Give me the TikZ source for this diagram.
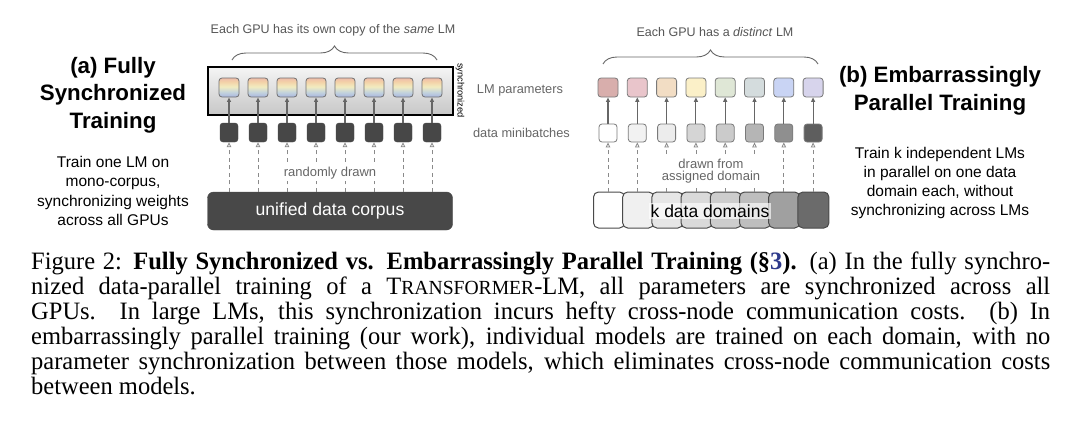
\documentclass[tikz,border=0pt]{standalone}
\usepackage{fontspec}
\setmainfont{Liberation Serif}[FakeStretch=0.98]
\newfontfamily\arial{Liberation Sans}
\usetikzlibrary{arrows.meta,decorations.pathreplacing,calc}
\newcommand\fsz[2]{\fontsize{#1}{#2}\selectfont}
\definecolor{rbB}{HTML}{A9B6E0}
\definecolor{rbC}{HTML}{C4D4DC}
\definecolor{rbY}{HTML}{F2ECC0}
\definecolor{rbO}{HTML}{F3D2A8}
\definecolor{rbT}{HTML}{EEBCAA}
\pgfdeclareverticalshading{rainbowpar}{100bp}{color(0bp)=(rbB); color(25bp)=(rbB); color(38bp)=(rbC); color(52bp)=(rbY); color(65bp)=(rbO); color(75bp)=(rbT); color(100bp)=(rbT)}
\definecolor{txtgray}{HTML}{555555}
\definecolor{lblgray}{HTML}{666666}
\definecolor{arrowgray}{HTML}{666666}
\definecolor{dashgray}{HTML}{8A8A8A}
\definecolor{mbdark}{HTML}{474747}
\definecolor{corpusdark}{HTML}{484848}
\definecolor{parborder}{HTML}{707070}
\definecolor{boxborder}{HTML}{7A7A7A}
\definecolor{domborder}{HTML}{4A4A4A}
\definecolor{linkblue}{HTML}{2E3A8C}
\definecolor{pb0}{HTML}{D8AEAC}
\definecolor{pb1}{HTML}{E9C5CB}
\definecolor{pb2}{HTML}{F2DDC4}
\definecolor{pb3}{HTML}{FBF0C8}
\definecolor{pb4}{HTML}{DFE7D6}
\definecolor{pb5}{HTML}{D4DCDD}
\definecolor{pb6}{HTML}{C9D4F4}
\definecolor{pb7}{HTML}{D7D4EC}
\definecolor{mbb0}{HTML}{FFFFFF}
\definecolor{mbb1}{HTML}{F2F2F2}
\definecolor{mbb2}{HTML}{ECECEC}
\definecolor{mbb3}{HTML}{D5D5D5}
\definecolor{mbb4}{HTML}{CBCBCB}
\definecolor{mbb5}{HTML}{B5B5B5}
\definecolor{mbb6}{HTML}{8F8F8F}
\definecolor{mbb7}{HTML}{5E5E5E}
\definecolor{dm0}{HTML}{FFFFFF}
\definecolor{dm1}{HTML}{F0F0F0}
\definecolor{dm2}{HTML}{E6E6E6}
\definecolor{dm3}{HTML}{DADADA}
\definecolor{dm4}{HTML}{CDCDCD}
\definecolor{dm5}{HTML}{BEBEBE}
\definecolor{dm6}{HTML}{A0A0A0}
\definecolor{dm7}{HTML}{6B6B6B}
\begin{document}
\begin{tikzpicture}[x=1pt,y=-1pt,
  lmA/.style={draw=parborder, line width=0.8pt, rounded corners=3pt, minimum width=20pt, minimum height=19pt, inner sep=0pt, shade, shading=rainbowpar},
  mbA/.style={fill=mbdark, draw=mbdark, rounded corners=3pt, minimum width=18pt, minimum height=19pt, inner sep=0pt},
  lmB/.style={draw=boxborder, line width=0.8pt, rounded corners=3pt, minimum width=20pt, minimum height=19pt, inner sep=0pt},
  mbB/.style={draw=boxborder, line width=0.8pt, rounded corners=3pt, minimum width=18pt, minimum height=18pt, inner sep=0pt},
  dombox/.style={draw=domborder, line width=1pt, rounded corners=5pt, minimum width=31pt, minimum height=36pt, inner sep=0pt, anchor=west},
  uparrow/.style={draw=arrowgray, line width=1.1pt, -{Triangle[length=4.5pt,width=4pt]}},
  duparrow/.style={draw=dashgray, line width=0.8pt, dash pattern=on 4pt off 3.5pt, -{Triangle[open,length=5pt,width=4.5pt]}},
  bracestyle/.style={draw=lblgray, line width=0.9pt, decorate, decoration={brace, amplitude=14pt}},
  title/.style={font=\arial\fsz{22.3}{27.5}\bfseries, align=center, inner sep=0pt},
  desc/.style={font=\arial\fsz{15.5}{19.2}, align=center, inner sep=0pt},
  smalllbl/.style={font=\arial\fsz{12.8}{15}, text=lblgray, inner sep=0pt},
  caprow/.style={anchor=base west, inner sep=0pt, font=\fsz{25}{25}}
]
\fill[white] (0,0) rectangle (1080,434);
\useasboundingbox (0,0) rectangle (1080,434);

% ---------- (a) ----------
\node[title] (titleA) at (113,95) {(a) Fully\\Synchronized\\Training};
\node[desc] (descA) at (113,191) {Train one LM on\\mono-corpus,\\synchronizing weights\\across all GPUs};

\node[font=\arial\fsz{12.5}{15}, text=txtgray, inner sep=0pt] (headA) at (333,30) {Each GPU has its own copy of the \textit{same} LM};
\coordinate (brA1) at (232,60);
\coordinate (brA2) at (437,60);
\draw[bracestyle] (brA1) -- (brA2);

\node[draw=black, line width=2.3pt, top color=white!96!black, bottom color=white!78!black, minimum width=245pt, minimum height=48pt, inner sep=0pt] (sync) at (330.5,91) {};
\node[rotate=-90, font=\arial\fsz{9.3}{10}, inner sep=0pt] (synclbl) at (460,90.5) {synchronized};

\node[draw=corpusdark, fill=corpusdark, rounded corners=6pt, minimum width=245pt, minimum height=38pt, inner sep=0pt, text=white, font=\arial\fsz{17.6}{20}] (corpus) at (330,211) {unified data corpus};

\foreach \i in {0,...,7} {
  \pgfmathsetmacro\xa{229+29*\i}
  \node[lmA] (pa\i) at (\xa,87.5) {};
  \node[mbA] (ma\i) at (\xa,132.5) {};
  \draw[uparrow] (ma\i.north) -- (pa\i.south);
  \draw[duparrow] (ma\i |- corpus.north) -- (ma\i.south);
}
\node[font=\arial\fsz{13}{15}, text=lblgray, fill=white, inner sep=1.5pt] (randA) at (330,173) {randomly drawn};

% ---------- middle labels ----------
\node[smalllbl] (lmlbl) at (520,90) {LM parameters};
\node[smalllbl] (mblbl) at (521.5,133) {data minibatches};

% ---------- (b) ----------
\node[font=\arial\fsz{12.5}{15}, text=txtgray, inner sep=0pt] (headB) at (715,32) {Each GPU has a \textit{distinct} LM};
\coordinate (brB1) at (603,64);
\coordinate (brB2) at (818,64);
\draw[bracestyle] (brB1) -- (brB2);

\foreach \i in {0,...,7} {
  \pgfmathsetmacro\xl{593+29.2*\i}
  \node[dombox, fill=dm\i] (dom\i) at (\xl,210) {};
}
\foreach \i in {0,...,7} {
  \pgfmathsetmacro\xb{608+29.3*\i}
  \node[lmB, fill=pb\i] (pb\i) at (\xb,87.5) {};
  \node[mbB, fill=mbb\i] (mb\i) at (\xb,133) {};
  \draw[uparrow] (mb\i.north) -- (pb\i.south);
  \draw[duparrow] (mb\i |- dom0.north) -- (mb\i.south);
}
\node[font=\arial\fsz{13}{11.5}, text=lblgray, fill=white, inner sep=1pt, align=center] (drawnB) at (711,171) {drawn from\\assigned domain};
\node[font=\arial\fsz{17.5}{20}, fill=white, fill opacity=0.65, text opacity=1, inner sep=1.5pt] (kdom) at (710,211) {k data domains};

\node[title] (titleB) at (940,91) {(b) Embarrassingly\\Parallel Training};
\node[desc] (descB) at (940,183) {Train k independent LMs\\in parallel on one data\\domain each, without\\synchronizing across LMs};

% ---------- caption ----------
\node[caprow] (cap1) at (31,269) {\hbox to 1019pt{Figure 2: \textbf{Fully Synchronized vs. Embarrassingly Parallel Training (\S\textcolor{linkblue}{3}).} (a) In the fully synchro-}};
\node[caprow] (cap2) at (31,294) {\hbox to 1019pt{nized data-parallel training of a T{\fsz{20}{25}RANSFORMER}-LM, all parameters are synchronized across all}};
\node[caprow] (cap3) at (31,319) {\hbox to 1019pt{GPUs.\ \ In large LMs, this synchronization incurs hefty cross-node communication costs.\ \ (b) In}};
\node[caprow] (cap4) at (31,344) {\hbox to 1019pt{embarrassingly parallel training (our work), individual models are trained on each domain, with no}};
\node[caprow] (cap5) at (31,369) {\hbox to 1019pt{parameter synchronization between those models, which eliminates cross-node communication costs}};
\node[caprow] (cap6) at (31,394) {between models.};
\end{tikzpicture}
\end{document}
